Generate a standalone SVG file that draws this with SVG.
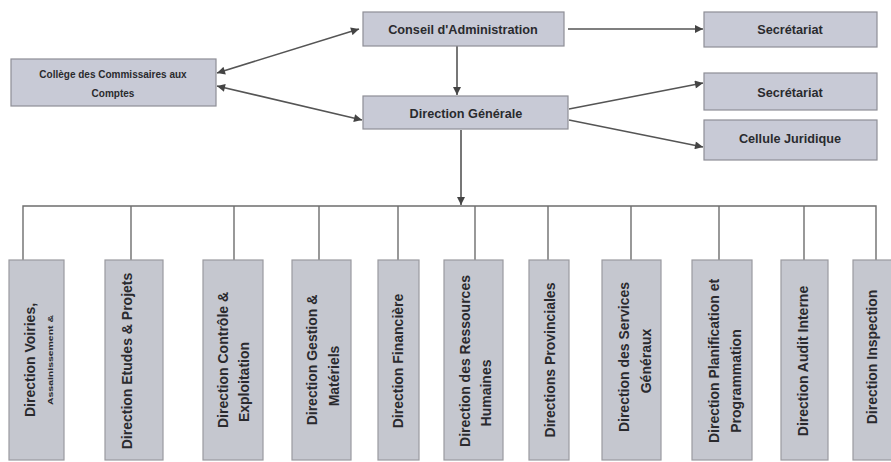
<svg xmlns="http://www.w3.org/2000/svg" width="891" height="462" viewBox="0 0 891 462">
<style>
.box{fill:#c8cad6;stroke:#8e8e96;stroke-width:1.2}
.vbox{fill:#c5c7cf;stroke:#9a9aa0;stroke-width:1.2}
.t{font-family:"Liberation Sans",Arial,sans-serif;font-weight:bold;fill:#2a2a2e;text-anchor:middle}
.top{font-size:12.7px}
.v{font-size:14px}
.ln{stroke:#555;stroke-width:1.6;fill:none}
.bus{stroke:#6e6e6e;stroke-width:1.4;fill:none}
</style>
<defs>
<marker id="ah" viewBox="0 0 10 10" refX="10" refY="5" markerWidth="10" markerHeight="8" markerUnits="userSpaceOnUse" orient="auto-start-reverse">
<path d="M0,0 L10,5 L0,10 z" fill="#444"/>
</marker>
</defs>
<rect width="891" height="462" fill="#ffffff"/>

<g id="connectors">
<line class="ln" x1="217" y1="73" x2="359" y2="29" marker-start="url(#ah)" marker-end="url(#ah)"/>
<line class="ln" x1="217" y1="86" x2="362" y2="120" marker-start="url(#ah)" marker-end="url(#ah)"/>
<line class="ln" x1="457" y1="46" x2="457" y2="95" marker-end="url(#ah)"/>
<line class="ln" x1="568" y1="29" x2="703" y2="29" marker-end="url(#ah)"/>
<line class="ln" x1="569" y1="109" x2="703" y2="83" marker-end="url(#ah)"/>
<line class="ln" x1="569" y1="120" x2="703" y2="147" marker-end="url(#ah)"/>
<line class="ln" x1="461" y1="130" x2="461" y2="205" marker-end="url(#ah)"/>
<path class="bus" d="M23,260 V206 H876 V260 M131,206 V260 M234,206 V260 M319,206 V260 M398,206 V260 M475,206 V260 M548,206 V260 M631,206 V260 M719,206 V260 M804,206 V260"/>
</g>

<g id="conseil">
<rect class="box" x="363" y="12" width="201" height="34"/>
<text class="t top" x="463" y="33.5">Conseil d'Administration</text>
</g>
<g id="secretariat1">
<rect class="box" x="704" y="12" width="173" height="35"/>
<text class="t top" x="790" y="33.5">Secrétariat</text>
</g>
<g id="college">
<rect class="box" x="11" y="59" width="205" height="47"/>
<text class="t" font-size="10" x="113" y="77.5">Collège des Commissaires aux</text>
<text class="t" font-size="10" x="113" y="96.5">Comptes</text>
</g>
<g id="direction-generale">
<rect class="box" x="363" y="96" width="205" height="33"/>
<text class="t top" x="466" y="117.5">Direction Générale</text>
</g>
<g id="secretariat2">
<rect class="box" x="704" y="73" width="173" height="37"/>
<text class="t top" x="790" y="96.5">Secrétariat</text>
</g>
<g id="cellule-juridique">
<rect class="box" x="704" y="120" width="173" height="40"/>
<text class="t top" x="790" y="142.5">Cellule Juridique</text>
</g>

<g id="d-voiries">
<rect class="vbox" x="9" y="260" width="55" height="200"/>
<text class="t v" transform="translate(35,360) rotate(-90)">Direction Voiries,</text>
<text class="t" font-size="7" textLength="90" lengthAdjust="spacingAndGlyphs" transform="translate(52.5,360) rotate(-90)">Assainissement &amp;</text>
</g>
<g id="d-etudes">
<rect class="vbox" x="105" y="260" width="58" height="200"/>
<text class="t v" transform="translate(132,361) rotate(-90)">Direction Etudes &amp; Projets</text>
</g>
<g id="d-controle">
<rect class="vbox" x="203" y="260" width="60" height="200"/>
<text class="t v" transform="translate(228,360) rotate(-90)">Direction Contrôle &amp;</text>
<text class="t v" transform="translate(249,382) rotate(-90)">Exploitation</text>
</g>
<g id="d-gestion">
<rect class="vbox" x="292" y="260" width="59" height="200"/>
<text class="t v" transform="translate(317,360) rotate(-90)">Direction Gestion &amp;</text>
<text class="t v" transform="translate(339,376) rotate(-90)">Matériels</text>
</g>
<g id="d-financiere">
<rect class="vbox" x="378" y="260" width="41" height="200"/>
<text class="t v" transform="translate(403,361) rotate(-90)">Direction Financière</text>
</g>
<g id="d-rh">
<rect class="vbox" x="444" y="260" width="59" height="200"/>
<text class="t v" transform="translate(470,361) rotate(-90)">Direction des Ressources</text>
<text class="t v" transform="translate(491,393) rotate(-90)">Humaines</text>
</g>
<g id="d-provinciales">
<rect class="vbox" x="529" y="260" width="40" height="200"/>
<text class="t v" transform="translate(555,360) rotate(-90)">Directions Provinciales</text>
</g>
<g id="d-services">
<rect class="vbox" x="602" y="260" width="59" height="200"/>
<text class="t v" transform="translate(629,357) rotate(-90)">Direction des Services</text>
<text class="t v" transform="translate(651,361) rotate(-90)">Généraux</text>
</g>
<g id="d-planification">
<rect class="vbox" x="692" y="260" width="60" height="200"/>
<text class="t v" transform="translate(719,361) rotate(-90)">Direction Planification et</text>
<text class="t v" transform="translate(741,381) rotate(-90)">Programmation</text>
</g>
<g id="d-audit">
<rect class="vbox" x="781" y="260" width="47" height="200"/>
<text class="t v" transform="translate(808,361) rotate(-90)">Direction Audit Interne</text>
</g>
<g id="d-inspection">
<rect class="vbox" x="853" y="260" width="40" height="200"/>
<text class="t v" transform="translate(877,357) rotate(-90)">Direction Inspection</text>
</g>
</svg>
